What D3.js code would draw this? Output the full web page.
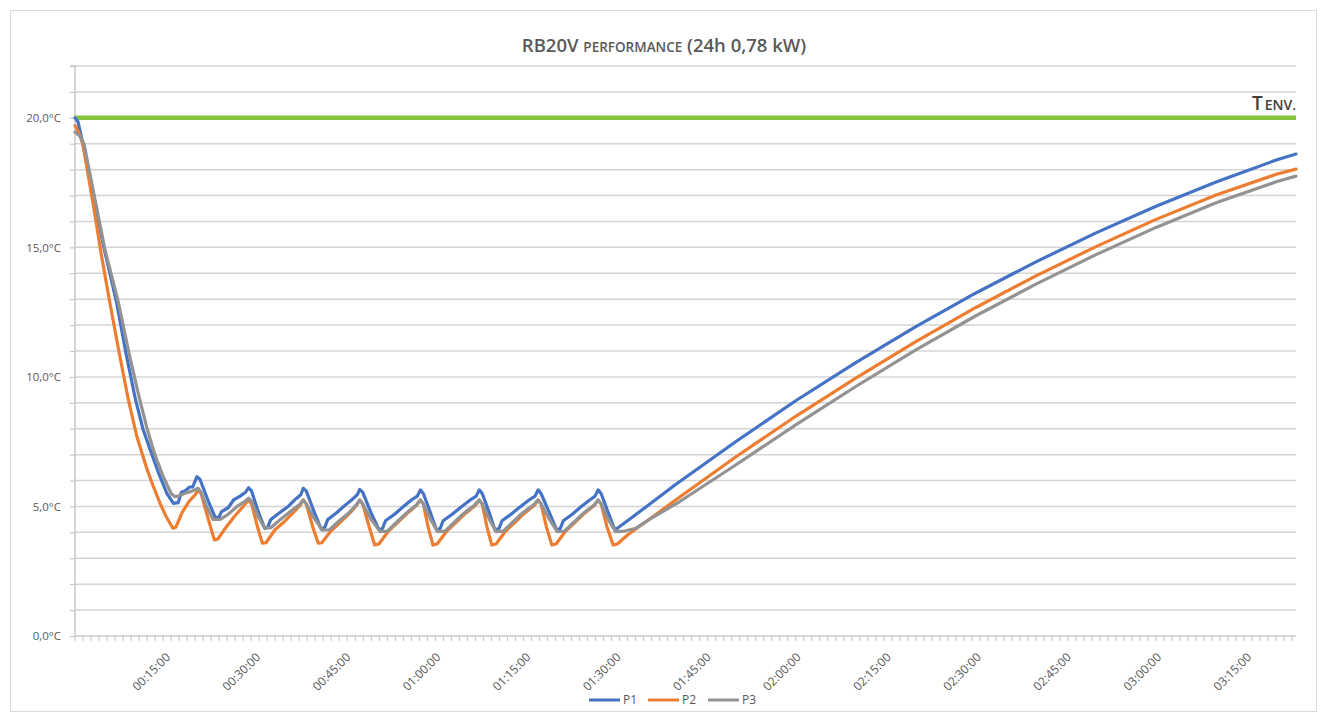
<!DOCTYPE html>
<html>
<head>
<meta charset="utf-8">
<script src="https://cdn.jsdelivr.net/npm/d3@7"></script>
<style>
  html, body { margin: 0; padding: 0; background: #fff; }
  svg { display: block; }
  text { font-family: "Open Sans", "Liberation Sans", sans-serif; }
</style>
</head>
<body>
<svg id="chart" width="1327" height="721"></svg>
<script>
// ---- data (minutes, °C) ----
const seriesNames = ["P1", "P2", "P3"];
const seriesColors = ["#4472C4", "#ED7D31", "#939393"];
const envTemp = 20.0;
const yTickValues = [0, 5, 10, 15, 20];
const xTickMinutes = [15, 30, 45, 60, 75, 90, 105, 120, 135, 150, 165, 180, 195];
const xMaxMinutes = 203.3;

const p1 = [[0,20.0],[0.5,19.85],[1.3,19.0],[3,17.1],[4.7,15.1],[6.9,12.9],[8.5,10.9],[10.1,9.1],[11.3,8.0],[12.5,7.2],[13.9,6.3],[15.3,5.5],[16.4,5.12],[17.2,5.15],[17.7,5.55],[18.3,5.6],[19.1,5.75],[19.6,5.75],[20.3,6.15],[20.8,6.05],[22.2,5.2],[23.4,4.55],[24.0,4.6],[24.4,4.8],[25.5,4.95],[26.4,5.25],[27.5,5.4],[28.4,5.55],[28.9,5.72],[29.4,5.6],[30.5,4.8],[31.6,4.15],[32.1,4.2],[32.6,4.5],[34,4.75],[35.5,5.0],[36.8,5.3],[37.6,5.45],[38.0,5.7],[38.5,5.6],[39.8,4.8],[41.0,4.12],[41.6,4.2],[42.1,4.5],[43.5,4.75],[45,5.05],[46.3,5.3],[47.0,5.45],[47.4,5.66],[47.9,5.55],[49.3,4.75],[50.6,4.1],[51.2,4.15],[51.7,4.45],[53.2,4.7],[54.7,5.0],[56.0,5.25],[57.0,5.4],[57.5,5.64],[58.0,5.5],[59.2,4.75],[60.2,4.09],[60.8,4.15],[61.3,4.45],[62.8,4.7],[64.4,5.0],[65.8,5.25],[66.8,5.4],[67.3,5.64],[67.8,5.5],[69.0,4.75],[69.9,4.1],[70.6,4.15],[71.1,4.45],[72.6,4.7],[74.2,5.0],[75.6,5.25],[76.6,5.4],[77.1,5.64],[77.6,5.5],[79.0,4.75],[80.2,4.09],[80.8,4.15],[81.3,4.45],[82.8,4.7],[84.3,5.0],[85.7,5.25],[86.6,5.4],[87.1,5.64],[87.6,5.5],[88.8,4.75],[89.9,4.09],[92,4.45],[95,4.97],[100,5.85],[110,7.5],[120,9.08],[130,10.55],[140,11.94],[150,13.24],[160,14.44],[170,15.56],[180,16.59],[190,17.52],[200,18.37],[203.3,18.6]];

const p2 = [[0,19.7],[0.6,19.45],[1.3,19.0],[3,16.7],[4.4,14.7],[5.7,13.0],[7.3,11.0],[8.9,9.1],[10.3,7.7],[11.9,6.5],[13.0,5.8],[14.2,5.1],[15.2,4.6],[16.3,4.16],[16.8,4.2],[17.8,4.75],[19.0,5.2],[20.0,5.45],[20.5,5.64],[21.0,5.5],[22.2,4.5],[23.2,3.71],[23.8,3.75],[25.0,4.15],[26.5,4.6],[28.0,5.0],[28.9,5.25],[29.4,5.1],[30.4,4.2],[31.2,3.58],[31.8,3.6],[33.3,4.1],[34.8,4.4],[36.5,4.8],[37.5,5.05],[38.0,5.25],[38.5,5.1],[39.6,4.2],[40.5,3.58],[41.1,3.6],[42.6,4.05],[44.2,4.4],[45.8,4.75],[46.9,5.05],[47.4,5.25],[47.9,5.1],[49.0,4.2],[49.9,3.51],[50.6,3.55],[52.2,4.05],[53.8,4.4],[55.4,4.75],[56.9,5.05],[57.5,5.25],[58.0,5.1],[58.8,4.2],[59.6,3.51],[60.3,3.55],[61.9,4.05],[63.5,4.4],[65.1,4.75],[66.7,5.05],[67.3,5.25],[67.8,5.1],[68.6,4.2],[69.4,3.51],[70.1,3.55],[71.7,4.05],[73.3,4.4],[74.9,4.75],[76.5,5.05],[77.1,5.25],[77.6,5.1],[78.5,4.2],[79.4,3.51],[80.1,3.55],[81.7,4.05],[83.3,4.4],[84.9,4.75],[86.5,5.05],[87.1,5.25],[87.6,5.1],[88.6,4.2],[89.6,3.51],[90.3,3.55],[92,3.9],[95,4.4],[100,5.25],[110,6.91],[120,8.48],[130,9.95],[140,11.36],[150,12.68],[160,13.9],[170,15.03],[180,16.08],[190,17.02],[200,17.82],[203.3,18.02]];

const p3 = [[0,19.45],[0.8,19.3],[1.5,19.0],[3.2,17.0],[5,14.9],[7.2,12.9],[9,10.9],[10.8,9.1],[12,8.0],[13.3,7.0],[14.6,6.2],[16,5.5],[16.6,5.38],[17.2,5.4],[18.2,5.5],[19.5,5.6],[20.5,5.7],[21.0,5.55],[22.0,4.95],[23.0,4.5],[24.2,4.5],[25.5,4.7],[27,5.0],[28.3,5.2],[28.9,5.32],[29.4,5.2],[30.5,4.6],[31.6,4.16],[32.6,4.18],[34.2,4.5],[35.8,4.8],[37.3,5.05],[38.0,5.25],[38.5,5.1],[39.8,4.55],[41.2,4.09],[42.4,4.1],[44,4.45],[45.6,4.75],[46.8,5.05],[47.4,5.25],[47.9,5.1],[49.3,4.5],[50.8,4.03],[52.0,4.05],[53.6,4.4],[55.2,4.75],[56.8,5.05],[57.5,5.25],[58.0,5.1],[59.2,4.5],[60.4,4.03],[61.6,4.05],[63.2,4.4],[64.8,4.75],[66.5,5.05],[67.3,5.25],[67.8,5.1],[69.0,4.5],[70.1,4.03],[71.3,4.05],[72.9,4.4],[74.5,4.75],[76.3,5.05],[77.1,5.25],[77.6,5.1],[79.0,4.5],[80.3,4.03],[81.5,4.05],[83.1,4.4],[84.7,4.75],[86.4,5.05],[87.1,5.25],[87.6,5.1],[88.8,4.5],[90.0,4.03],[91.5,4.05],[93.4,4.16],[96,4.55],[100.7,5.19],[110,6.6],[120,8.15],[130,9.63],[140,11.04],[150,12.36],[160,13.58],[170,14.72],[180,15.77],[190,16.72],[200,17.53],[203.3,17.75]];

const seriesData = [p1, p2, p3];

// ---- layout ----
const svg = d3.select("#chart");
const plot = { left: 75, right: 1296, top: 66, bottom: 636 };

svg.append("rect").attr("x", 10.5).attr("y", 10.5).attr("width", 1306).attr("height", 701)
  .attr("fill", "#fff").attr("stroke", "#d9d9d9").attr("stroke-width", 1);

const x = d3.scaleLinear().domain([0, xMaxMinutes]).range([plot.left, plot.right]);
const y = d3.scaleLinear().domain([0, 22]).range([plot.bottom, plot.top]);

// gridlines every 1 °C
const gridVals = d3.range(1, 23);
svg.append("g").selectAll("line").data(gridVals).join("line")
  .attr("x1", plot.left).attr("x2", plot.right)
  .attr("y1", d => y(d)).attr("y2", d => y(d))
  .attr("stroke", "#d4d4d4").attr("stroke-width", 1.5);

// y axis
const yAxis = d3.axisLeft(y).tickValues(d3.range(0, 23)).tickSize(5).tickPadding(9)
  .tickFormat(d => yTickValues.includes(d) ? d.toFixed(1).replace(".", ",") + "°C" : "");
const gy = svg.append("g").attr("transform", `translate(${plot.left},0)`).call(yAxis);
gy.select(".domain").attr("stroke", "#c8c8c8").attr("stroke-width", 1.5).attr("d", `M-5,${plot.top}H0V${plot.bottom}`);
gy.selectAll(".tick line").attr("stroke", "#c8c8c8").attr("stroke-width", 1.2);
gy.selectAll(".tick text").attr("fill", "#595959").style("font-size", "11.5px");

// x axis: minor ticks every 80 seconds
const minorTicks = d3.range(0, xMaxMinutes + 0.01, 4 / 3);
const gx = svg.append("g").attr("transform", `translate(0,${plot.bottom})`);
gx.append("line").attr("x1", plot.left).attr("x2", plot.right).attr("y1", 0).attr("y2", 0)
  .attr("stroke", "#c8c8c8").attr("stroke-width", 1.5);
gx.selectAll("line.minor").data(minorTicks).join("line").attr("class", "minor")
  .attr("x1", d => x(d)).attr("x2", d => x(d)).attr("y1", 0).attr("y2", 5)
  .attr("stroke", "#c8c8c8").attr("stroke-width", 1.2);

function fmtTime(m) {
  const h = Math.floor(m / 60), mm = m % 60;
  return String(h).padStart(2, "0") + ":" + String(mm).padStart(2, "0") + ":00";
}
gx.selectAll("text.xl").data(xTickMinutes).join("text").attr("class", "xl")
  .attr("transform", d => `translate(${x(d) + 3},${19}) rotate(-45)`)
  .attr("text-anchor", "end").attr("dy", "0.35em")
  .attr("fill", "#595959").style("font-size", "12px")
  .text(fmtTime);

// environment line
svg.append("line").attr("x1", plot.left).attr("x2", plot.right)
  .attr("y1", y(envTemp)).attr("y2", y(envTemp))
  .attr("stroke", "#86c440").attr("stroke-width", 4.5);

const envLabel = svg.append("text").attr("x", plot.right).attr("y", 110)
  .attr("text-anchor", "end").attr("fill", "#404040").style("font-weight", 600);
envLabel.append("tspan").style("font-size", "19px").text("T");
envLabel.append("tspan").style("font-size", "14px").attr("dx", 2).text("ENV.");

// series lines
const line = d3.line().x(d => x(d[0])).y(d => y(d[1])).curve(d3.curveLinear);
svg.append("g").selectAll("path").data(seriesData).join("path")
  .attr("d", line).attr("fill", "none")
  .attr("stroke", (d, i) => seriesColors[i]).attr("stroke-width", 3.2)
  .attr("stroke-linejoin", "round").attr("stroke-linecap", "round");

// title
const title = svg.append("text").attr("x", 664).attr("y", 52).attr("text-anchor", "middle")
  .attr("fill", "#595959").style("font-weight", 600);
title.append("tspan").style("font-size", "18.5px").text("RB20V ");
title.append("tspan").style("font-size", "13.5px").text("PERFORMANCE");
title.append("tspan").style("font-size", "18.5px").text(" (24h 0,78 kW)");

// legend
const legendX = [589, 648, 708];
const lg = svg.append("g").selectAll("g").data(seriesNames).join("g")
  .attr("transform", (d, i) => `translate(${legendX[i]},700)`);
lg.append("line").attr("x1", 0).attr("x2", 31).attr("y1", 0).attr("y2", 0)
  .attr("stroke", (d, i) => seriesColors[i]).attr("stroke-width", 3);
lg.append("text").attr("x", 34).attr("dy", "0.35em").attr("fill", "#595959")
  .style("font-size", "12px").text(d => d);
</script>
</body>
</html>
